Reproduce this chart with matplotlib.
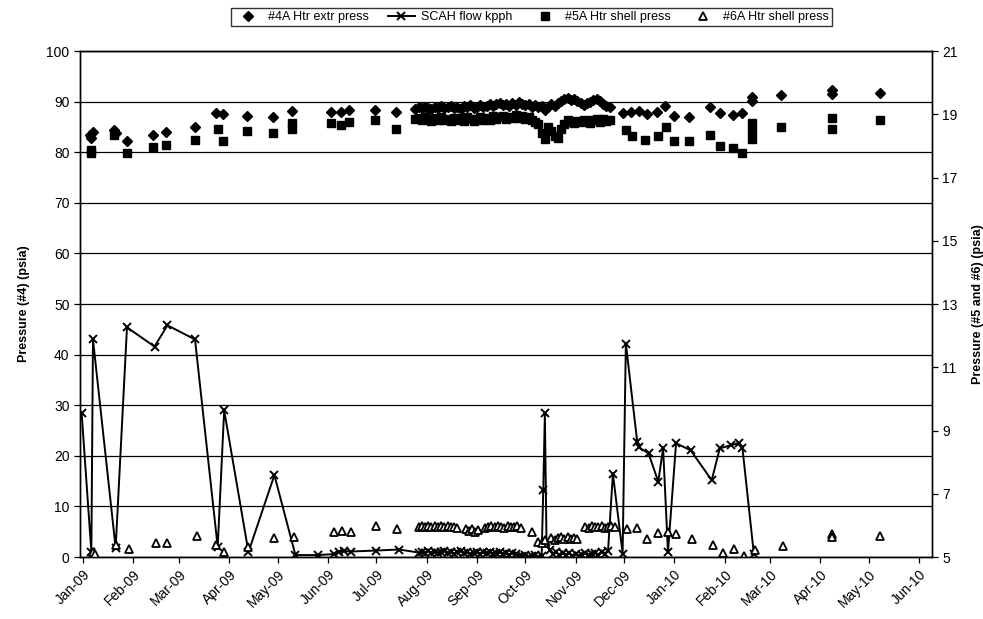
import pandas as pd
import matplotlib.pyplot as plt
import matplotlib.dates as mdates
from matplotlib.ticker import MultipleLocator

plt.rcParams["font.family"] = ["Liberation Sans", "DejaVu Sans"]

# #4A heater extraction pressure (psia, left axis)
ext4_dates = [
    "2009-01-05", "2009-01-06", "2009-01-07", "2009-01-20", "2009-01-21", "2009-01-28",
    "2009-02-13", "2009-02-21", "2009-03-11", "2009-03-24", "2009-03-28", "2009-04-12",
    "2009-04-28", "2009-05-10", "2009-06-03", "2009-06-09", "2009-06-14", "2009-06-30",
    "2009-07-13",
    "2009-07-25", "2009-07-27", "2009-07-29", "2009-07-31", "2009-08-02", "2009-08-04",
    "2009-08-06", "2009-08-08", "2009-08-10", "2009-08-12", "2009-08-14", "2009-08-16",
    "2009-08-18", "2009-08-20", "2009-08-22", "2009-08-24", "2009-08-26", "2009-08-28",
    "2009-08-30", "2009-09-01", "2009-09-03", "2009-09-05", "2009-09-07", "2009-09-09",
    "2009-09-11", "2009-09-13", "2009-09-15", "2009-09-17", "2009-09-19", "2009-09-21",
    "2009-09-23", "2009-09-25", "2009-09-27", "2009-09-29", "2009-10-01", "2009-10-03",
    "2009-10-05", "2009-10-07", "2009-10-09", "2009-10-11", "2009-10-13", "2009-10-15",
    "2009-10-17", "2009-10-19", "2009-10-21", "2009-10-23", "2009-10-25", "2009-10-27",
    "2009-10-29", "2009-10-31", "2009-11-02", "2009-11-04", "2009-11-06", "2009-11-08",
    "2009-11-10", "2009-11-12", "2009-11-14", "2009-11-16", "2009-11-18", "2009-11-20",
    "2009-11-22",
    "2009-11-30", "2009-12-05", "2009-12-10", "2009-12-15", "2009-12-21", "2009-12-26",
    "2010-01-01", "2010-01-10", "2010-01-23", "2010-01-29", "2010-02-06", "2010-02-12",
    "2010-02-18", "2010-02-18", "2010-03-08", "2010-04-08", "2010-04-08", "2010-05-08",
]
ext4_psia = [
    83.5, 82.8, 84.0, 84.3, 83.7, 82.2,
    83.4, 83.9, 84.9, 87.7, 87.5, 87.2,
    86.9, 88.2, 88.0, 87.9, 88.3, 88.4,
    88.0,
    88.6, 88.9, 88.7, 89.0, 88.8, 88.5,
    89.0, 88.8, 89.1, 88.7, 88.9, 89.2,
    88.8, 89.0, 88.6, 89.1, 88.9, 89.3,
    88.7, 89.0, 89.4, 88.9, 89.2, 89.6,
    89.1, 89.5, 89.8, 89.3, 89.6, 89.2,
    89.7, 89.4, 89.9, 89.5, 89.3, 89.6,
    89.0, 89.4, 88.9, 89.2, 88.3, 89.0,
    89.5, 89.1, 89.8, 90.2, 90.5, 90.8,
    90.3, 90.6, 90.1, 89.7, 89.4, 89.8,
    90.0, 90.4, 90.6, 90.2, 89.6, 89.2,
    88.9,
    87.8, 88.0, 88.2, 87.6, 88.0, 89.2,
    87.1, 86.9, 89.0, 87.8, 87.3, 87.8,
    91.0, 90.1, 91.4, 92.3, 91.6, 91.8,
]

# SCAH flow (kpph, left axis)
scah_dates = [
    "2008-12-31", "2009-01-06", "2009-01-07", "2009-01-21", "2009-01-28", "2009-02-14",
    "2009-02-22", "2009-03-11", "2009-03-25", "2009-03-29", "2009-04-13", "2009-04-29",
    "2009-05-12", "2009-05-26", "2009-06-05", "2009-06-08", "2009-06-11", "2009-06-15",
    "2009-07-01", "2009-07-15", "2009-07-27", "2009-07-29", "2009-07-31", "2009-08-02",
    "2009-08-04", "2009-08-06", "2009-08-08", "2009-08-10", "2009-08-12", "2009-08-14",
    "2009-08-16", "2009-08-18", "2009-08-20", "2009-08-22", "2009-08-24", "2009-08-26",
    "2009-08-28", "2009-08-30", "2009-09-01", "2009-09-03", "2009-09-05", "2009-09-07",
    "2009-09-09", "2009-09-11", "2009-09-13", "2009-09-15", "2009-09-17", "2009-09-19",
    "2009-09-21", "2009-09-23", "2009-09-25", "2009-09-27", "2009-09-29", "2009-10-01",
    "2009-10-03", "2009-10-05", "2009-10-07", "2009-10-09", "2009-10-11", "2009-10-12",
    "2009-10-13", "2009-10-14", "2009-10-16", "2009-10-18", "2009-10-20", "2009-10-22",
    "2009-10-24", "2009-10-26", "2009-10-28", "2009-10-30", "2009-11-01", "2009-11-03",
    "2009-11-05", "2009-11-07", "2009-11-09", "2009-11-11", "2009-11-13", "2009-11-15",
    "2009-11-17", "2009-11-19", "2009-11-21", "2009-11-24", "2009-11-30", "2009-12-02",
    "2009-12-09", "2009-12-10", "2009-12-16", "2009-12-22", "2009-12-25", "2009-12-28",
    "2010-01-02", "2010-01-11", "2010-01-24", "2010-01-29", "2010-02-05", "2010-02-10",
    "2010-02-12", "2010-02-19",
]
scah_kpph = [
    28.5, 1.0, 43.0, 1.8, 45.4, 41.6,
    45.8, 43.0, 2.0, 29.0, 1.0, 16.2,
    0.4, 0.4, 0.6, 1.0, 1.2, 1.1,
    1.3, 1.5, 0.9, 1.0, 0.8, 1.2,
    0.9, 1.1, 0.8, 1.0, 1.2, 0.9,
    1.1, 0.7, 1.0, 1.2, 0.8, 1.0,
    0.6, 0.9, 1.1, 0.7, 1.0, 0.8,
    1.1, 0.6, 0.9, 1.0, 0.7, 0.9,
    0.5, 0.8, 0.6, 0.3, 0.2, 0.5,
    0.1, 0.3, 0.4, 0.1, 0.3, 13.2,
    28.4, 3.0, 1.5, 0.6, 1.0, 0.4,
    0.8, 0.5, 0.9, 0.3, 0.6, 0.2,
    0.5, 0.8, 0.4, 0.6, 0.9, 0.5,
    1.0, 0.7, 1.2, 16.5, 0.7, 42.2,
    22.8, 21.7, 20.5, 14.9, 21.5, 1.0,
    22.5, 21.1, 15.2, 21.5, 22.1, 22.6,
    21.5, 0.7,
]

# #5A heater shell pressure (psia, right axis)
shell5_dates = [
    "2009-01-06", "2009-01-06", "2009-01-20", "2009-01-28", "2009-02-13", "2009-02-21",
    "2009-03-11", "2009-03-25", "2009-03-28", "2009-04-12", "2009-04-28", "2009-05-10",
    "2009-05-10", "2009-06-03", "2009-06-09", "2009-06-14", "2009-06-30", "2009-07-13",
    "2009-07-25", "2009-07-27", "2009-07-29", "2009-07-31", "2009-08-02", "2009-08-04",
    "2009-08-06", "2009-08-08", "2009-08-10", "2009-08-12", "2009-08-14", "2009-08-16",
    "2009-08-18", "2009-08-20", "2009-08-22", "2009-08-24", "2009-08-26", "2009-08-28",
    "2009-08-30", "2009-09-01", "2009-09-03", "2009-09-05", "2009-09-07", "2009-09-09",
    "2009-09-11", "2009-09-13", "2009-09-15", "2009-09-17", "2009-09-19", "2009-09-21",
    "2009-09-23", "2009-09-25", "2009-09-27", "2009-09-29", "2009-10-01", "2009-10-03",
    "2009-10-05", "2009-10-07", "2009-10-09", "2009-10-11", "2009-10-13", "2009-10-15",
    "2009-10-17", "2009-10-19", "2009-10-21", "2009-10-23", "2009-10-25", "2009-10-27",
    "2009-10-29", "2009-10-31", "2009-11-02", "2009-11-04", "2009-11-06", "2009-11-08",
    "2009-11-10", "2009-11-12", "2009-11-14", "2009-11-16", "2009-11-18", "2009-11-20",
    "2009-11-22",
    "2009-12-02", "2009-12-06", "2009-12-14", "2009-12-22", "2009-12-27", "2010-01-01",
    "2010-01-10", "2010-01-23", "2010-01-29", "2010-02-06", "2010-02-12", "2010-02-18",
    "2010-02-18", "2010-02-18", "2010-03-08", "2010-04-08", "2010-04-08", "2010-05-08",
]
shell5_psia = [
    17.88, 17.77, 18.33, 17.78, 17.98, 18.02,
    18.18, 18.55, 18.14, 18.47, 18.42, 18.73,
    18.54, 18.73, 18.66, 18.76, 18.82, 18.55,
    18.84, 18.89, 18.81, 18.90, 18.84, 18.79,
    18.87, 18.82, 18.90, 18.81, 18.86, 18.78,
    18.89, 18.82, 18.87, 18.79, 18.90, 18.84,
    18.78, 18.86, 18.92, 18.82, 18.89, 18.81,
    18.94, 18.86, 18.90, 18.95, 18.84, 18.92,
    18.87, 18.97, 18.89, 18.94, 18.86, 18.90,
    18.82, 18.76, 18.68, 18.41, 18.22, 18.60,
    18.47, 18.30, 18.25, 18.52, 18.70, 18.82,
    18.76, 18.71, 18.79, 18.74, 18.82, 18.78,
    18.73, 18.81, 18.84, 18.76, 18.86, 18.79,
    18.82,
    18.50, 18.30, 18.18, 18.30, 18.60, 18.14,
    18.14, 18.34, 17.99, 17.93, 17.77, 18.71,
    18.46, 18.23, 18.60, 18.87, 18.55, 18.82,
]

# #6A heater shell pressure (psia, right axis)
shell6_dates = [
    "2009-01-07", "2009-01-08", "2009-01-21", "2009-01-29", "2009-02-15", "2009-02-22",
    "2009-03-12", "2009-03-24", "2009-03-29", "2009-04-13", "2009-04-29", "2009-05-11",
    "2009-06-05", "2009-06-10", "2009-06-15", "2009-07-01", "2009-07-14",
    "2009-07-27", "2009-07-29", "2009-07-31", "2009-08-02", "2009-08-04", "2009-08-06",
    "2009-08-08", "2009-08-10", "2009-08-12", "2009-08-14", "2009-08-16", "2009-08-18",
    "2009-08-20", "2009-08-25", "2009-08-27", "2009-08-29", "2009-08-31", "2009-09-02",
    "2009-09-06", "2009-09-08", "2009-09-10", "2009-09-12", "2009-09-14", "2009-09-16",
    "2009-09-18", "2009-09-20", "2009-09-22", "2009-09-24", "2009-09-26", "2009-09-28",
    "2009-10-05", "2009-10-09", "2009-10-11", "2009-10-13", "2009-10-17", "2009-10-19",
    "2009-10-21", "2009-10-23", "2009-10-25", "2009-10-27", "2009-10-29", "2009-10-31",
    "2009-11-02", "2009-11-07", "2009-11-09", "2009-11-11", "2009-11-13", "2009-11-15",
    "2009-11-17", "2009-11-19", "2009-11-21", "2009-11-23", "2009-11-25",
    "2009-12-03", "2009-12-09", "2009-12-15", "2009-12-22", "2009-12-28", "2010-01-02",
    "2010-01-12", "2010-01-25", "2010-01-31", "2010-02-07", "2010-02-13", "2010-02-20",
    "2010-03-09", "2010-04-08", "2010-04-08", "2010-05-08",
]
shell6_psia = [
    5.16, 5.10, 5.38, 5.27, 5.43, 5.43,
    5.67, 5.38, 5.16, 5.32, 5.59, 5.62,
    5.80, 5.82, 5.80, 5.98, 5.88,
    5.94, 5.98, 5.96, 5.99, 5.96, 5.98,
    5.94, 5.99, 5.96, 5.98, 5.94, 5.96,
    5.93, 5.90, 5.83, 5.88, 5.80, 5.85,
    5.93, 5.96, 5.98, 5.94, 5.99, 5.96,
    5.93, 5.98, 5.96, 5.94, 5.98, 5.91,
    5.80, 5.48, 5.45, 5.53, 5.61, 5.54,
    5.61, 5.64, 5.58, 5.62, 5.56, 5.61,
    5.58, 5.96, 5.93, 5.98, 5.94, 5.96,
    5.99, 5.93, 5.96, 5.98, 5.94,
    5.88, 5.91, 5.56, 5.75, 5.80, 5.72,
    5.56, 5.38, 5.14, 5.27, 5.02, 5.22,
    5.35, 5.74, 5.62, 5.67,
]

right_ticks = [5, 7, 9, 11, 13, 15, 17, 19, 21]

ext4 = pd.Series(ext4_psia, index=pd.to_datetime(ext4_dates))
scah = pd.Series(scah_kpph, index=pd.to_datetime(scah_dates))
shell5 = pd.Series(shell5_psia, index=pd.to_datetime(shell5_dates))
shell6 = pd.Series(shell6_psia, index=pd.to_datetime(shell6_dates))

fig = plt.figure(figsize=(9.83, 6.19), dpi=100)
ax = fig.add_axes([0.0814, 0.100, 0.8667, 0.8176])
ax2 = ax.twinx()

# 左軸: #4A と SCAH
h1, = ax.plot(ext4.index, ext4.values, linestyle="none", marker="D",
              markersize=5, color="black", label="#4A Htr extr press")
h2, = ax.plot(scah.index, scah.values, color="black", linewidth=1.4,
              marker="x", markersize=6, markeredgewidth=1.4, label="SCAH flow kpph")

# 右軸: #5A と #6A
h3, = ax2.plot(shell5.index, shell5.values, linestyle="none", marker="s",
               markersize=5.5, color="black", label="#5A Htr shell press")
h4, = ax2.plot(shell6.index, shell6.values, linestyle="none", marker="^",
               markersize=6, markerfacecolor="white", markeredgecolor="black",
               markeredgewidth=1.3, label="#6A Htr shell press")

ax.set_ylim(0, 100)
ax.yaxis.set_major_locator(MultipleLocator(10))
ax2.set_ylim(5, 21)
ax2.set_yticks(right_ticks)

ax.set_xlim(pd.Timestamp("2008-12-30"), pd.Timestamp("2010-06-09"))
ax.xaxis.set_major_locator(mdates.MonthLocator())
ax.xaxis.set_major_formatter(mdates.DateFormatter("%b-%y"))
for lbl in ax.get_xticklabels():
    lbl.set_rotation(45)
    lbl.set_ha("right")
    lbl.set_rotation_mode("anchor")

ax.grid(True, axis="y", color="black", linewidth=0.9)
ax.set_axisbelow(True)
for a in (ax, ax2):
    a.tick_params(direction="out", length=4, width=0.9, labelsize=10, colors="black")
    for sp in a.spines.values():
        sp.set_color("black")
        sp.set_linewidth(1.0)

ax.set_ylabel("Pressure (#4) (psia)", fontsize=9, fontweight="bold", labelpad=12)
ax2.set_ylabel("Pressure (#5 and #6) (psia)", fontsize=9, fontweight="bold",
               rotation=90, labelpad=10)

leg = fig.legend(handles=[h1, h2, h3, h4], loc="upper center",
                 bbox_to_anchor=(0.541, 0.997), ncol=4, fontsize=9,
                 frameon=True, fancybox=False, edgecolor="black",
                 handlelength=2.2, columnspacing=1.5, handletextpad=0.5,
                 borderpad=0.25)
leg.get_frame().set_linewidth(1.0)

plt.savefig("out.png", dpi=100)
